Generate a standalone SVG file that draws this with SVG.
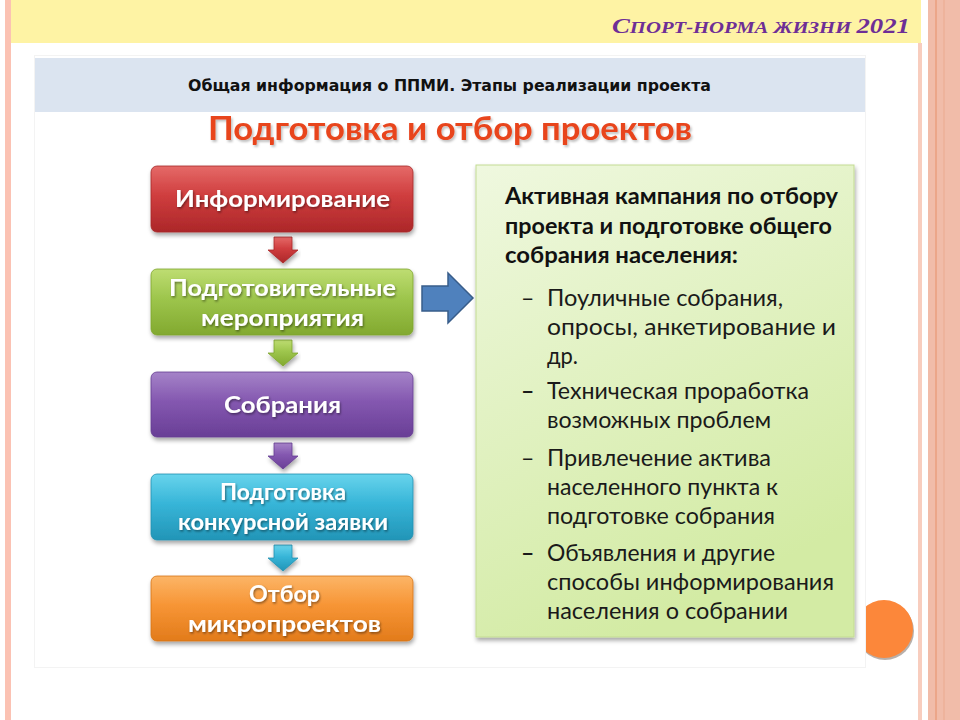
<svg xmlns="http://www.w3.org/2000/svg" width="960" height="720" viewBox="0 0 960 720">
  <style>
    .boxtxt { font-family: "Lato", "Open Sans", sans-serif; font-weight: bold; font-size: 23px; fill: #ffffff; text-anchor: start; }
    .head { font-family: "Lato", "Open Sans", sans-serif; font-weight: bold; font-size: 23px; fill: #111111; }
    .item { font-family: "Lato", "Open Sans", sans-serif; font-size: 23px; fill: #1a1a1a; }
    .dash { font-family: "Lato", "Open Sans", sans-serif; font-size: 23px; fill: #1a1a1a; }
  </style>
  <defs>
    <filter id="shadow" x="-10%" y="-10%" width="120%" height="130%">
      <feDropShadow dx="1" dy="3" stdDeviation="2" flood-color="#000" flood-opacity="0.35"/>
    </filter>
    <filter id="tshadow" x="-5%" y="-20%" width="110%" height="150%">
      <feDropShadow dx="1" dy="1.5" stdDeviation="0.8" flood-color="#000" flood-opacity="0.45"/>
    </filter>
    <filter id="titleshadow" x="-5%" y="-20%" width="110%" height="150%">
      <feDropShadow dx="1.5" dy="2" stdDeviation="1" flood-color="#000" flood-opacity="0.25"/>
    </filter>
    <linearGradient id="gRed" x1="0" y1="0" x2="0" y2="1">
      <stop offset="0" stop-color="#E56A68"/>
      <stop offset="0.45" stop-color="#CF3D3E"/>
      <stop offset="1" stop-color="#AC2729"/>
    </linearGradient>
    <linearGradient id="gGreen" x1="0" y1="0" x2="0" y2="1">
      <stop offset="0" stop-color="#BEDD72"/>
      <stop offset="0.45" stop-color="#9DC54C"/>
      <stop offset="1" stop-color="#82A92F"/>
    </linearGradient>
    <linearGradient id="gPurple" x1="0" y1="0" x2="0" y2="1">
      <stop offset="0" stop-color="#A583C8"/>
      <stop offset="0.45" stop-color="#8458B0"/>
      <stop offset="1" stop-color="#693E96"/>
    </linearGradient>
    <linearGradient id="gCyan" x1="0" y1="0" x2="0" y2="1">
      <stop offset="0" stop-color="#68D4EC"/>
      <stop offset="0.45" stop-color="#37B5D8"/>
      <stop offset="1" stop-color="#2295B7"/>
    </linearGradient>
    <linearGradient id="gOrange" x1="0" y1="0" x2="0" y2="1">
      <stop offset="0" stop-color="#FCB567"/>
      <stop offset="0.45" stop-color="#F79535"/>
      <stop offset="1" stop-color="#E27B1B"/>
    </linearGradient>
    <linearGradient id="gPanel" x1="0" y1="0" x2="0.4" y2="1">
      <stop offset="0" stop-color="#EFF8DF"/>
      <stop offset="1" stop-color="#D3EBA4"/>
    </linearGradient>
  </defs>

  <!-- page background and frame -->
  <rect x="0" y="0" width="960" height="720" fill="#ffffff"/>
  <rect x="5" y="0" width="6" height="720" fill="#FBC2B3"/>
  <rect x="11" y="0" width="910" height="43" fill="#FEF3A4"/>
  <rect x="918" y="43" width="4" height="677" fill="#F8CDBE"/>
  <rect x="928" y="0" width="32" height="720" fill="#F1BCA9"/>
  <rect x="935" y="0" width="2" height="720" fill="#ECA689"/>
  <rect x="943" y="0" width="2" height="720" fill="#EEB39C"/>

  <text x="612" y="33" textLength="298" lengthAdjust="spacingAndGlyphs" font-family="'Liberation Serif', serif" font-style="italic" font-weight="bold" fill="#6E2E96"><tspan font-size="22">С</tspan><tspan font-size="17">ПОРТ-НОРМА ЖИЗНИ </tspan><tspan font-size="22">2021</tspan></text>

  <!-- orange decorative circle (partly behind slide picture) -->
  <circle cx="885" cy="631" r="29" fill="#9A8F88" opacity="0.7"/>
  <circle cx="884" cy="629" r="29" fill="#FC873A"/>

  <!-- slide picture area -->
  <rect x="34.5" y="55.5" width="831" height="612" fill="#ffffff" stroke="#F3F3F3" stroke-width="1"/>
  <rect x="35" y="58" width="830" height="54" fill="#DBE4F0"/>
  <text x="188" y="91" textLength="523" lengthAdjust="spacingAndGlyphs" font-family="'DejaVu Sans', sans-serif" font-weight="bold" font-size="16" fill="#111111">Общая информация о ППМИ. Этапы реализации проекта</text>
  <text x="208" y="140" textLength="484" lengthAdjust="spacingAndGlyphs" font-family="'Lato', 'Open Sans', sans-serif" font-weight="bold" font-size="32" fill="#E8441D" filter="url(#titleshadow)">Подготовка и отбор проектов</text>

  <!-- connectors -->
  <g id="connectors" stroke-width="0.8">
    <path d="M274,237 h18 v13 h6 l-15,13 l-15,-13 h6 z" fill="url(#gRed)" stroke="#A82628" filter="url(#shadow)"/>
    <path d="M274,340 h18 v13 h6 l-15,13 l-15,-13 h6 z" fill="url(#gGreen)" stroke="#7FA52E" filter="url(#shadow)"/>
    <path d="M274,443 h18 v13 h6 l-15,13 l-15,-13 h6 z" fill="url(#gPurple)" stroke="#663D92" filter="url(#shadow)"/>
    <path d="M274,545 h18 v13 h6 l-15,13 l-15,-13 h6 z" fill="url(#gCyan)" stroke="#2290B0" filter="url(#shadow)"/>
    <path d="M422,286 H448 V273 L473,298 L448,323 V311 H422 Z" fill="#4F81BD" stroke="#385D8A" stroke-width="1.5"/>
  </g>

  <!-- left column nodes -->
  <g id="node-inform">
    <rect x="151" y="166" width="262" height="66" rx="6" fill="url(#gRed)" stroke="#A52A2A" stroke-width="0.8" filter="url(#shadow)"/>
    <text class="boxtxt" x="175" y="207" textLength="215" lengthAdjust="spacingAndGlyphs" filter="url(#tshadow)">Информирование</text>
  </g>
  <g id="node-prep">
    <rect x="151" y="269" width="262" height="66" rx="6" fill="url(#gGreen)" stroke="#7FA52E" stroke-width="0.8" filter="url(#shadow)"/>
    <text class="boxtxt" x="169" y="296" textLength="227" lengthAdjust="spacingAndGlyphs" filter="url(#tshadow)">Подготовительные</text>
    <text class="boxtxt" x="201" y="326" textLength="163" lengthAdjust="spacingAndGlyphs" filter="url(#tshadow)">мероприятия</text>
  </g>
  <g id="node-meet">
    <rect x="151" y="372" width="262" height="65" rx="6" fill="url(#gPurple)" stroke="#663D92" stroke-width="0.8" filter="url(#shadow)"/>
    <text class="boxtxt" x="224" y="413" textLength="117" lengthAdjust="spacingAndGlyphs" filter="url(#tshadow)">Собрания</text>
  </g>
  <g id="node-app">
    <rect x="151" y="474" width="262" height="66" rx="6" fill="url(#gCyan)" stroke="#2290B0" stroke-width="0.8" filter="url(#shadow)"/>
    <text class="boxtxt" x="220" y="500" font-size="21" textLength="126" lengthAdjust="spacingAndGlyphs" filter="url(#tshadow)">Подготовка</text>
    <text class="boxtxt" x="178" y="530" font-size="21" textLength="210" lengthAdjust="spacingAndGlyphs" filter="url(#tshadow)">конкурсной заявки</text>
  </g>
  <g id="node-select">
    <rect x="151" y="576" width="262" height="65" rx="6" fill="url(#gOrange)" stroke="#D67315" stroke-width="0.8" filter="url(#shadow)"/>
    <text class="boxtxt" x="249" y="602" textLength="71" lengthAdjust="spacingAndGlyphs" filter="url(#tshadow)">Отбор</text>
    <text class="boxtxt" x="188" y="632" textLength="193" lengthAdjust="spacingAndGlyphs" filter="url(#tshadow)">микропроектов</text>
  </g>

  <!-- right description panel -->
  <g id="node-panel">
    <rect x="476" y="165" width="378" height="472" fill="url(#gPanel)" stroke="#C3DB93" stroke-width="1" filter="url(#shadow)"/>
    <text class="head" x="505" y="204" textLength="333" lengthAdjust="spacingAndGlyphs">Активная кампания по отбору</text>
    <text class="head" x="505" y="234" textLength="327" lengthAdjust="spacingAndGlyphs">проекта и подготовке общего</text>
    <text class="head" x="505" y="263" textLength="233" lengthAdjust="spacingAndGlyphs">собрания населения:</text>

    <text class="dash" x="521" y="306">–</text>
    <text class="item" x="547" y="306" textLength="236" lengthAdjust="spacingAndGlyphs">Поуличные собрания,</text>
    <text class="item" x="547" y="335" textLength="289" lengthAdjust="spacingAndGlyphs">опросы, анкетирование и</text>
    <text class="item" x="547" y="364" textLength="31" lengthAdjust="spacingAndGlyphs">др.</text>

    <text class="dash" x="521" y="399" font-weight="bold">–</text>
    <text class="item" x="547" y="399" textLength="262" lengthAdjust="spacingAndGlyphs">Техническая проработка</text>
    <text class="item" x="547" y="428" textLength="224" lengthAdjust="spacingAndGlyphs">возможных проблем</text>

    <text class="dash" x="521" y="466">–</text>
    <text class="item" x="547" y="466" textLength="224" lengthAdjust="spacingAndGlyphs">Привлечение актива</text>
    <text class="item" x="547" y="495" textLength="231" lengthAdjust="spacingAndGlyphs">населенного пункта к</text>
    <text class="item" x="547" y="524" textLength="228" lengthAdjust="spacingAndGlyphs">подготовке собрания</text>

    <text class="dash" x="521" y="561" font-weight="bold">–</text>
    <text class="item" x="547" y="561" textLength="228" lengthAdjust="spacingAndGlyphs">Объявления и другие</text>
    <text class="item" x="547" y="590" textLength="287" lengthAdjust="spacingAndGlyphs">способы информирования</text>
    <text class="item" x="547" y="619" textLength="241" lengthAdjust="spacingAndGlyphs">населения о собрании</text>
  </g>
</svg>
